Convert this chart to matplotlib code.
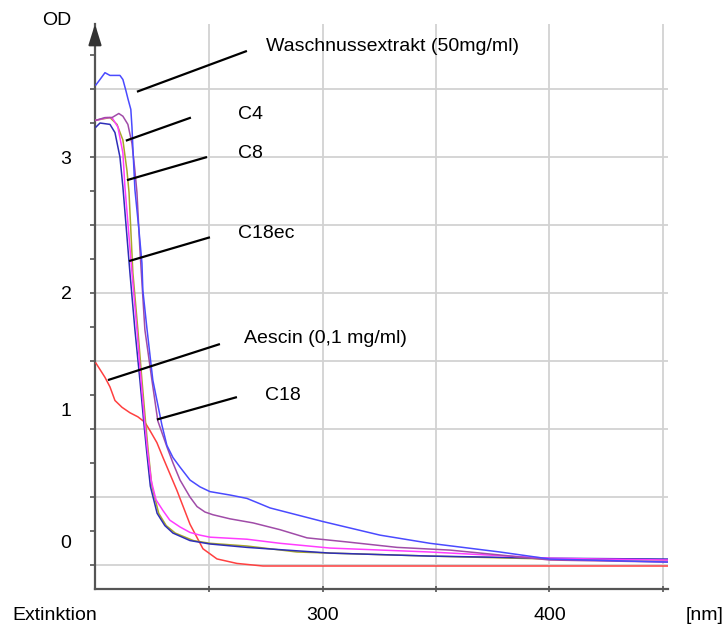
import matplotlib
matplotlib.use("Agg")
import matplotlib.pyplot as plt
import numpy as np
from matplotlib.transforms import blended_transform_factory

plt.rcParams['font.family'] = ['Liberation Sans', 'DejaVu Sans']
plt.rcParams['font.size'] = 14

# ---- spectra: wavelength [nm] and optical density ----
wl_wasch = [200.0, 201.8, 204.0, 206.2, 210.6, 211.9, 213.2, 214.1, 215.4, 215.9, 216.3,
            217.2, 219.0, 220.3, 220.7, 222.5, 225.1, 229.1, 231.3, 234.0, 237.1, 241.5,
            245.9, 250.3, 259.1, 266.6, 271.0, 276.8, 300.1, 325.3, 347.3, 378.2, 400.3,
            416.6, 452.3]
od_wasch = [3.53, 3.57, 3.62, 3.60, 3.60, 3.57, 3.49, 3.43, 3.35, 3.22, 3.07,
            2.76, 2.46, 2.22, 2.02, 1.74, 1.36, 1.03, 0.88, 0.79, 0.72, 0.625,
            0.575, 0.54, 0.515, 0.49, 0.46, 0.42, 0.32, 0.22, 0.16, 0.096, 0.044,
            0.037, 0.022]

wl_purple = [200.0, 204.0, 207.1, 210.1, 211.9, 214.1, 215.9, 217.2, 218.1, 219.4, 221.6,
             224.7, 227.3, 231.3, 234.0, 237.1, 241.5, 244.6, 248.1, 251.6, 259.1, 269.3,
             281.2, 293.1, 310.7, 332.8, 356.2, 378.2, 400.3, 452.3]
od_purple = [3.27, 3.29, 3.29, 3.32, 3.30, 3.24, 3.10, 2.90, 2.74, 2.32, 1.73,
             1.36, 1.06, 0.87, 0.75, 0.625, 0.50, 0.43, 0.39, 0.37, 0.34, 0.31,
             0.26, 0.20, 0.17, 0.13, 0.11, 0.074, 0.037, 0.022]

wl_magenta = [200.0, 204.9, 207.1, 209.7, 211.9, 212.8, 215.9, 218.1, 219.9, 221.4, 222.7,
              224.4, 226.5, 229.6, 232.6, 237.1, 241.5, 245.9, 250.3, 266.6, 281.2, 303.2,
              347.3, 400.3, 452.3]
od_magenta = [3.27, 3.29, 3.29, 3.22, 3.03, 2.78, 2.15, 1.73, 1.36, 1.07, 0.85,
              0.62, 0.48, 0.40, 0.33, 0.28, 0.24, 0.22, 0.205, 0.19, 0.16, 0.125,
              0.096, 0.05, 0.037]

wl_olive = [200.0, 206.2, 209.3, 211.9, 213.7, 214.6, 216.3, 218.5, 220.3, 221.8, 223.0,
            224.7, 227.7, 231.0, 235.0, 243.0, 250.3, 266.6, 288.7, 303.2, 347.3, 400.3,
            452.3]
od_olive = [3.27, 3.29, 3.24, 3.125, 2.90, 2.74, 2.15, 1.73, 1.36, 1.07, 0.85,
            0.58, 0.38, 0.29, 0.235, 0.18, 0.16, 0.14, 0.096, 0.088, 0.066, 0.044,
            0.037]

wl_navy = [200.0, 201.8, 206.2, 208.4, 210.6, 211.9, 215.0, 217.2, 219.4, 221.0, 222.3,
           224.0, 227.0, 230.4, 234.0, 241.5, 250.3, 266.6, 303.2, 347.3, 400.3, 452.3]
od_navy = [3.22, 3.25, 3.24, 3.18, 3.00, 2.78, 2.15, 1.73, 1.36, 1.07, 0.85,
           0.58, 0.38, 0.29, 0.235, 0.18, 0.155, 0.13, 0.088, 0.066, 0.05, 0.044]

wl_aescin = [200.0, 204.0, 206.2, 208.4, 211.5, 215.0, 218.5, 221.6, 223.8, 226.9, 229.6,
             235.7, 241.5, 247.2, 253.4, 262.2, 273.7, 452.3]
od_aescin = [1.485, 1.38, 1.31, 1.21, 1.16, 1.12, 1.09, 1.05, 0.99, 0.90, 0.79,
             0.55, 0.30, 0.12, 0.045, 0.012, -0.007, -0.007]

series_labels = ['Waschnussextrakt (50mg/ml)', 'C4', 'C8', 'C18ec', 'Aescin (0,1 mg/ml)', 'C18']
x_tick_values = [300, 400]
x_tick_labels = ['300', '400']
y_tick_labels = ['3', '2', '1', '0']

W, H = 727, 626
fig = plt.figure(figsize=(W / 100, H / 100), dpi=100)
ax = fig.add_axes([95 / W, 37 / H, 573 / W, 565 / H])


def fpx(x, y):
    """pixel position (from top-left) -> figure fraction"""
    return x / W, 1 - y / H


ax.set_xlim(199.6, 452.3)
ax.set_ylim(-0.176, 3.978)

# grid
for gx in np.arange(250, 451, 50):
    ax.axvline(gx, color='#d2d2d2', lw=1.3, zorder=0)
for gy in np.arange(0, 3.51, 0.5):
    ax.axhline(gy, color='#d2d2d2', lw=1.3, zorder=0)

# curves
lw = 1.1
ax.plot(wl_aescin, od_aescin, color='#ff4040', lw=lw, zorder=3)
ax.plot(wl_olive, od_olive, color='#a8a828', lw=lw, zorder=3)
ax.plot(wl_navy, od_navy, color='#2e2eb8', lw=lw, zorder=3)
ax.plot(wl_magenta, od_magenta, color='#ff3cff', lw=lw, zorder=3)
ax.plot(wl_purple, od_purple, color='#a04ca8', lw=lw, zorder=3)
ax.plot(wl_wasch, od_wasch, color='#4a4aff', lw=lw, zorder=3)

# axes styling
for s in ['top', 'right']:
    ax.spines[s].set_visible(False)
for s in ['left', 'bottom']:
    ax.spines[s].set_color('#555555')
    ax.spines[s].set_linewidth(1.6)

ax.set_yticks(np.arange(0, 3.76, 0.25))
ax.set_yticklabels([])
ax.tick_params(axis='y', direction='out', length=3.5, width=1.2, color='#555555')
ax.set_xticks(np.arange(250, 451, 50))
ax.set_xticklabels([])
ax.tick_params(axis='x', direction='inout', length=5, width=1.2, color='#555555')

# arrow head on top of the OD axis
ax.annotate('', xy=(0, 1.0), xytext=(0, 0.975), xycoords='axes fraction',
            arrowprops=dict(arrowstyle='-|>,head_length=0.9,head_width=0.28',
                            color='#333333', lw=1.6, shrinkA=0, shrinkB=0),
            annotation_clip=False)

# axis texts
fig.text(*fpx(42, 25), 'OD', ha='left', va='baseline')
fig.text(*fpx(12, 620), 'Extinktion', ha='left', va='baseline')
fig.text(*fpx(686, 620), '[nm]', ha='left', va='baseline')
for lab, ybase in zip(y_tick_labels, [164, 299, 416, 548]):
    fig.text(*fpx(66, ybase), lab, ha='center', va='baseline')
tr = blended_transform_factory(ax.transData, fig.transFigure)
for xv, lab in zip(x_tick_values, x_tick_labels):
    ax.text(xv, 1 - 620 / H, lab, transform=tr, ha='center', va='baseline')

# labels with pointer lines: (line start on curve), (line end), (text baseline-left)
pointers = [
    ((218.1, 3.48), (266.6, 3.78), (275.0, 3.783)),
    ((213.2, 3.12), (241.9, 3.29), (262.6, 3.28)),
    ((213.7, 2.83), (249.0, 3.00), (262.6, 2.996)),
    ((214.6, 2.235), (250.3, 2.41), (262.6, 2.408)),
    ((205.3, 1.36), (254.7, 1.625), (265.3, 1.636)),
    ((226.9, 1.07), (262.2, 1.235), (274.5, 1.217)),
]
for lab, (p0, p1, pt) in zip(series_labels, pointers):
    ax.plot([p0[0], p1[0]], [p0[1], p1[1]], color='black', lw=1.6, zorder=5,
            solid_capstyle='butt')
    ax.text(pt[0], pt[1], lab, ha='left', va='baseline', zorder=6)

fig.savefig('out.png', dpi=100)
